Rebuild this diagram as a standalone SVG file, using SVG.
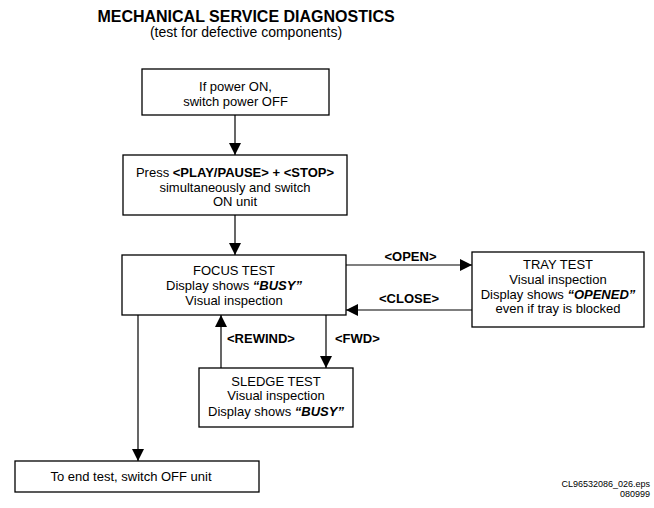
<svg xmlns="http://www.w3.org/2000/svg" width="654" height="508" viewBox="0 0 654 508">
<defs>
<marker id="ah" markerUnits="userSpaceOnUse" markerWidth="12" markerHeight="12" refX="12" refY="6" orient="auto">
<path d="M0,0 L12,6 L0,12 z" fill="#000"/>
</marker>
<style>
text{font-family:"Liberation Sans",Arial,sans-serif;fill:#000}
.t{font-size:13px;text-anchor:middle}
.b{font-weight:bold}
.bi{font-weight:bold;font-style:italic}
.lbl{font-size:13px;font-weight:bold}
.box{fill:#fff;stroke:#000;stroke-width:1.3}
.conn path{fill:none;stroke:#000;stroke-width:1.2;marker-end:url(#ah)}
</style>
</defs>
<rect width="654" height="508" fill="#fff"/>
<g id="title">
<text x="246" y="22" class="b" font-size="16" text-anchor="middle">MECHANICAL SERVICE DIAGNOSTICS</text>
<text x="246" y="37" font-size="14" text-anchor="middle">(test for defective components)</text>
</g>
<g class="conn" id="connectors">
<path d="M235,115 V155"/>
<path d="M235,215 V255"/>
<path d="M346,265 H472"/>
<path d="M472,310 H346"/>
<path d="M326,315 V368"/>
<path d="M221,368 V315"/>
<path d="M138,315 V461"/>
</g>
<g id="labels">
<text x="410.5" y="261" class="lbl" text-anchor="middle">&lt;OPEN&gt;</text>
<text x="409" y="303" class="lbl" text-anchor="middle">&lt;CLOSE&gt;</text>
<text x="227" y="343" class="lbl">&lt;REWIND&gt;</text>
<text x="335" y="343" class="lbl">&lt;FWD&gt;</text>
</g>
<g id="power-off">
<rect class="box" x="142" y="69" width="187" height="46"/>
<text class="t" x="235.5" y="91">If power ON,</text>
<text class="t" x="235.5" y="106">switch power OFF</text>
</g>
<g id="press">
<rect class="box" x="123" y="155" width="224" height="60"/>
<text class="t" x="235" y="177">Press <tspan class="b">&lt;PLAY/PAUSE&gt; + &lt;STOP&gt;</tspan></text>
<text class="t" x="235" y="192">simultaneously and switch</text>
<text class="t" x="235" y="206">ON unit</text>
</g>
<g id="focus">
<rect class="box" x="122" y="255" width="224" height="60"/>
<text class="t" x="234" y="275">FOCUS TEST</text>
<text class="t" x="234" y="290">Display shows <tspan class="bi">“BUSY”</tspan></text>
<text class="t" x="234" y="305">Visual inspection</text>
</g>
<g id="tray">
<rect class="box" x="472" y="252" width="172" height="75"/>
<text class="t" x="558" y="269">TRAY TEST</text>
<text class="t" x="558" y="284">Visual inspection</text>
<text class="t" x="558" y="299">Display shows <tspan class="bi">“OPENED”</tspan></text>
<text class="t" x="558" y="313">even if tray is blocked</text>
</g>
<g id="sledge">
<rect class="box" x="199" y="368" width="154" height="59"/>
<text class="t" x="276" y="386">SLEDGE TEST</text>
<text class="t" x="276" y="400">Visual inspection</text>
<text class="t" x="276" y="416">Display shows <tspan class="bi">“BUSY”</tspan></text>
</g>
<g id="end">
<rect class="box" x="15" y="461" width="244" height="31"/>
<text class="t" x="131" y="481">To end test, switch OFF unit</text>
</g>
<g id="footer">
<text x="650" y="487" font-size="9" text-anchor="end">CL96532086_026.eps</text>
<text x="650" y="497" font-size="9" text-anchor="end">080999</text>
</g>
</svg>
